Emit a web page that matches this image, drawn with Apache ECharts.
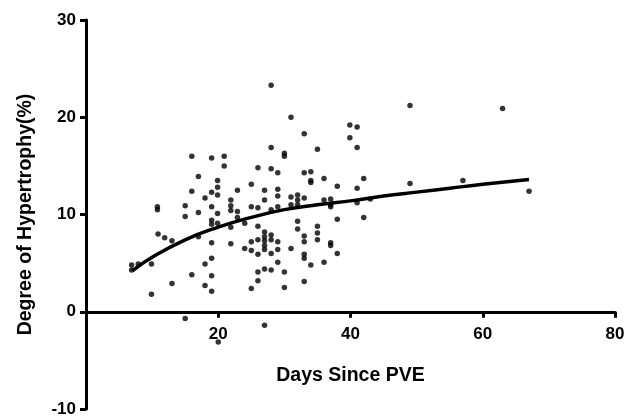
<!DOCTYPE html>
<html><head><meta charset="utf-8">
<script src="https://cdn.jsdelivr.net/npm/echarts@6/dist/echarts.min.js"></script>
<style>html,body{margin:0;padding:0;background:#fff}#c{width:627px;height:418px}</style>
</head><body><div id="c"></div>
<script>
// Scatter points: [days since PVE, degree of hypertrophy %]
var points = [
[6.9,4.8],[7.9,4.9],[6.9,4.3],[9.9,4.9],[9.9,1.8],[10.8,10.8],[10.8,10.5],[10.9,8.0],[11.9,7.6],[13.0,7.3],[13.0,2.9],
[15.0,10.9],[15.0,9.8],[15.0,-0.7],[16.0,16.0],[16.0,12.4],[16.0,3.8],[17.0,13.9],[17.0,10.2],[17.0,7.7],
[18.0,11.7],[18.0,4.9],[18.0,2.7],
[19.0,15.8],[19.0,12.3],[19.0,10.8],[19.0,9.4],[19.0,9.0],[19.0,7.1],[19.0,5.5],[19.0,3.7],[19.0,2.1],
[19.9,13.5],[19.9,12.8],[19.9,12.0],[19.9,10.1],[19.9,9.1],[20.0,-3.1],
[20.9,16.0],[20.9,15.0],
[21.9,11.5],[21.9,10.9],[21.9,10.4],[21.9,8.7],[21.9,7.0],
[22.9,12.5],[22.9,10.3],[22.9,9.7],
[24.0,9.1],[24.0,6.5],
[25.0,13.1],[25.0,10.8],[25.0,7.2],[25.0,6.3],[25.0,2.4],
[26.0,14.8],[26.0,10.7],[26.0,8.8],[26.0,7.4],[26.0,5.9],[26.0,4.1],[26.0,3.2],
[27.0,12.5],[27.0,11.5],[27.0,8.2],[27.0,7.7],[27.0,7.3],[27.0,6.8],[27.0,6.4],[27.0,4.4],[27.0,-1.4],
[28.0,23.3],[28.0,16.9],[28.0,14.7],[28.0,10.5],[28.0,7.9],[28.0,7.4],[28.0,6.0],[28.0,4.3],
[29.0,14.3],[29.0,12.6],[29.0,11.9],[29.0,10.8],[29.0,7.2],[29.0,6.4],[29.0,5.1],
[30.0,16.3],[30.0,16.0],[30.0,4.1],[30.0,2.5],
[31.0,20.0],[31.0,11.8],[31.0,11.0],[31.0,6.5],
[32.0,12.0],[32.0,11.5],[32.0,11.0],[32.0,9.3],[32.0,8.5],
[33.0,18.3],[33.0,14.3],[33.0,11.7],[33.0,7.8],[33.0,7.2],[33.0,5.9],[33.0,5.5],[33.0,3.1],
[34.0,14.4],[34.0,13.5],[34.0,13.3],[34.0,4.8],
[35.0,16.7],[35.0,8.8],[35.0,8.1],[35.0,7.4],
[36.0,13.7],[36.0,11.5],[36.0,5.1],
[37.0,11.6],[37.0,11.0],[37.0,10.8],[37.0,7.1],[37.0,6.8],
[38.0,12.9],[38.0,9.5],[38.0,6.0],
[39.9,19.2],[39.9,17.9],
[41.0,19.0],[41.0,16.9],[41.0,12.7],[41.0,11.2],
[42.0,13.7],[42.0,9.7],[43.0,11.6],
[49.0,21.2],[49.0,13.2],[57.0,13.5],[63.0,20.9],[67.0,12.4]
];
// Fitted curve
var curveX = [7, 10, 15, 20, 25, 30, 35, 40, 45, 50, 55, 60, 67];
var curveY = [4.2, 5.6, 7.4, 8.7, 9.7, 10.5, 11.0, 11.4, 11.9, 12.3, 12.7, 13.1, 13.6];
var xTicks = [0, 20, 40, 60, 80];
var yTicks = [-10, 0, 10, 20, 30];

var curve = curveX.map(function(x, i){ return [x, curveY[i]]; });
var font = '"Liberation Sans", Arial, Helvetica, sans-serif';
var H = 418, TOP = 20, BOTTOM = 9;
var yMin = yTicks[0], yMax = yTicks[yTicks.length-1];
// distance from grid bottom to the y=0 line, so the x axis sits on zero
var zeroOffset = (H - TOP - BOTTOM) * (0 - yMin) / (yMax - yMin);
var chart = echarts.init(document.getElementById('c'), null, {renderer: 'canvas'});
chart.setOption({
  animation: false,
  backgroundColor: '#fff',
  grid: {left: 86, right: 12, top: TOP, bottom: BOTTOM, containLabel: false, outerBoundsMode: 'none'},
  xAxis: {
    type: 'value', min: xTicks[0], max: xTicks[xTicks.length-1], interval: 20,
    position: 'bottom', offset: -zeroOffset,
    name: 'Days Since PVE', nameLocation: 'middle', nameGap: 54,
    nameTextStyle: {color: '#000', fontWeight: 'bold', fontSize: 19.5, fontFamily: font},
    axisLine: {onZero: false, lineStyle: {color: '#000', width: 3}},
    axisTick: {show: true, inside: false, length: 6, lineStyle: {color: '#000', width: 3}},
    axisLabel: {color: '#000', fontWeight: 'bold', fontSize: 17, fontFamily: font, margin: 14,
      formatter: function(v){ return v === 0 ? '' : String(v); }},
    splitLine: {show: false}
  },
  yAxis: {
    type: 'value', min: yMin, max: yMax, interval: 10,
    name: 'Degree of Hypertrophy(%)', nameLocation: 'middle', nameGap: 50,
    nameTextStyle: {color: '#000', fontWeight: 'bold', fontSize: 19.5, fontFamily: font},
    axisLine: {onZero: false, lineStyle: {color: '#000', width: 3}},
    axisTick: {show: true, inside: false, length: 6, lineStyle: {color: '#000', width: 3}},
    axisLabel: {color: '#000', fontWeight: 'bold', fontSize: 17, fontFamily: font, margin: 10},
    splitLine: {show: false}
  },
  series: [
    {type: 'scatter', data: points, symbol: 'circle', symbolSize: 5.5,
     itemStyle: {color: '#000'}, z: 3},
    {type: 'line', data: curve, smooth: true, showSymbol: false,
     lineStyle: {color: '#000', width: 3.5}, z: 4}
  ]
});
</script></body></html>
